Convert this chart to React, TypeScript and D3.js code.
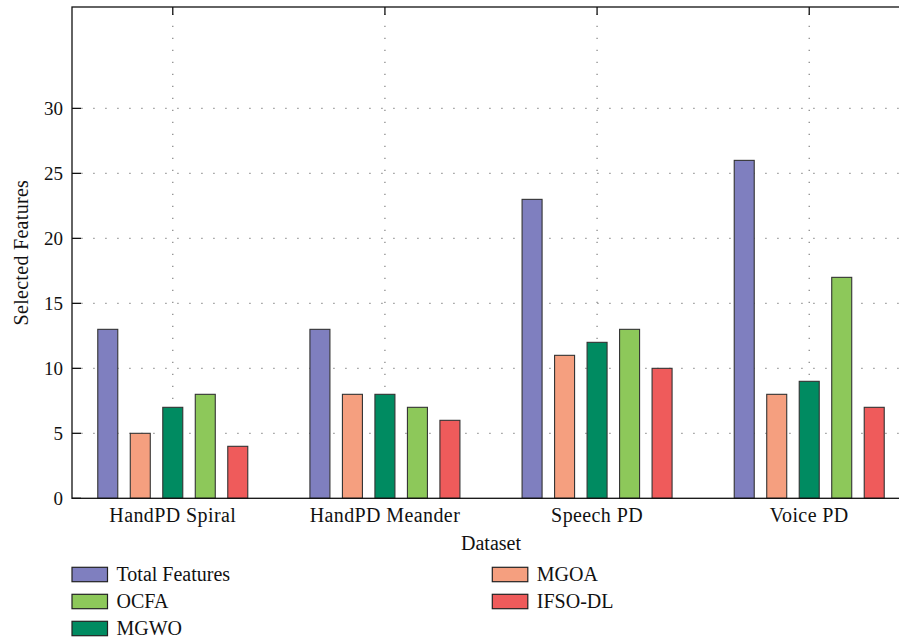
import { useEffect, useRef } from "react";
import * as d3 from "d3";

const categories = ["HandPD Spiral", "HandPD Meander", "Speech PD", "Voice PD"];
const seriesNames = ["Total Features", "MGOA", "MGWO", "OCFA", "IFSO-DL"];
const seriesColors = ["#7f7fbf", "#f59f7f", "#008b61", "#8dc85a", "#ef5b5b"];
const totalFeatures = [13, 13, 23, 26];
const mgoa = [5, 8, 11, 8];
const mgwo = [7, 8, 12, 9];
const ocfa = [8, 7, 13, 17];
const ifsoDl = [4, 6, 10, 7];
const yTicks = [0, 5, 10, 15, 20, 25, 30];
// legend order as in the figure (two columns, filled row by row)
const legendOrder = ["Total Features", "MGOA", "OCFA", "IFSO-DL", "MGWO"];

const W = 899;
const H = 641;
const FONT = "'Liberation Serif', 'Times New Roman', serif";

const App = () => {
  const svgRef = useRef<SVGSVGElement>(null);

  useEffect(() => {
    const svg = d3.select(svgRef.current);
    svg.selectAll("*").remove();

    const left = 72, right = 910, top = 7, bottom = 498.3;
    const values = [totalFeatures, mgoa, mgwo, ocfa, ifsoDl];

    const x = d3.scaleLinear().domain([-0.475, categories.length - 1 + 0.475]).range([left, right]);
    const inner = d3.scaleBand().domain(seriesNames).range([-75, 75]).paddingInner(0.3846);
    const y = d3.scaleLinear().domain([0, 37.8]).range([bottom, top]);
    const color = d3.scaleOrdinal<string, string>().domain(seriesNames).range(seriesColors);

    // grid
    const grid = svg.append("g").attr("stroke", "#8a8a8a").attr("stroke-width", 1.3)
      .attr("stroke-dasharray", "1.3 10.7");
    yTicks.filter((t) => t > 0).forEach((t) => {
      grid.append("line")
        .attr("x1", left).attr("x2", right)
        .attr("y1", y(t)).attr("y2", y(t))
        .attr("stroke-dashoffset", 2.7);
    });
    categories.forEach((_, i) => {
      grid.append("line")
        .attr("x1", x(i)).attr("x2", x(i))
        .attr("y1", bottom).attr("y2", top)
        .attr("stroke-dashoffset", -3.3);
    });

    // bars
    seriesNames.forEach((name, s) => {
      svg.append("g").selectAll("rect")
        .data(values[s])
        .join("rect")
        .attr("x", (_, i) => x(i) + (inner(name) as number))
        .attr("y", (d) => y(d))
        .attr("width", inner.bandwidth())
        .attr("height", (d) => bottom - y(d))
        .attr("fill", color(name))
        .attr("stroke", "#333")
        .attr("stroke-width", 1.1);
    });

    // frame
    svg.append("rect")
      .attr("x", left).attr("y", top)
      .attr("width", right - left).attr("height", bottom - top)
      .attr("fill", "none").attr("stroke", "#111").attr("stroke-width", 1.3);

    // ticks
    const ticks = svg.append("g").attr("stroke", "#111").attr("stroke-width", 1.3);
    yTicks.forEach((t) => {
      ticks.append("line").attr("x1", left).attr("x2", left + 9).attr("y1", y(t)).attr("y2", y(t));
    });
    categories.forEach((_, i) => {
      ticks.append("line").attr("x1", x(i)).attr("x2", x(i)).attr("y1", top).attr("y2", top + 8);
    });

    // tick labels
    svg.append("g").selectAll("text")
      .data(yTicks)
      .join("text")
      .attr("x", left - 9)
      .attr("y", (d) => y(d) + 6.5)
      .attr("text-anchor", "end")
      .attr("font-family", FONT)
      .attr("font-size", 19)
      .attr("fill", "#111")
      .text((d) => d);

    svg.append("g").selectAll("text")
      .data(categories)
      .join("text")
      .attr("x", (_, i) => x(i))
      .attr("y", bottom + 23.5)
      .attr("text-anchor", "middle")
      .attr("font-family", FONT)
      .attr("font-size", 20)
      .attr("letter-spacing", 0.4)
      .attr("fill", "#111")
      .text((d) => d);

    // axis titles
    svg.append("text")
      .attr("x", (left + right) / 2)
      .attr("y", 550)
      .attr("text-anchor", "middle")
      .attr("font-family", FONT)
      .attr("font-size", 20)
      .attr("fill", "#111")
      .text("Dataset");

    svg.append("text")
      .attr("transform", `translate(28, ${(top + bottom) / 2}) rotate(-90)`)
      .attr("text-anchor", "middle")
      .attr("font-family", FONT)
      .attr("font-size", 20)
      .attr("letter-spacing", 0.3)
      .attr("fill", "#111")
      .text("Selected Features");

    // legend
    const legend = svg.append("g");
    legendOrder.forEach((name, k) => {
      const col = k % 2;
      const row = Math.floor(k / 2);
      const lx = col === 0 ? 72 : 492.3;
      const ly = 567.3 + row * 27;
      legend.append("rect")
        .attr("x", lx).attr("y", ly)
        .attr("width", 35.5).attr("height", 14.4)
        .attr("fill", color(name))
        .attr("stroke", "#222").attr("stroke-width", 1.2);
      legend.append("text")
        .attr("x", lx + 44.5)
        .attr("y", ly + 14)
        .attr("font-family", FONT)
        .attr("font-size", 20)
        .attr("fill", "#111")
        .text(name);
    });
  }, []);

  return (
    <svg
      ref={svgRef}
      width={W}
      height={H}
      style={{ position: "absolute", left: 0, top: 0, background: "#fff" }}
    />
  );
};

export default App;
